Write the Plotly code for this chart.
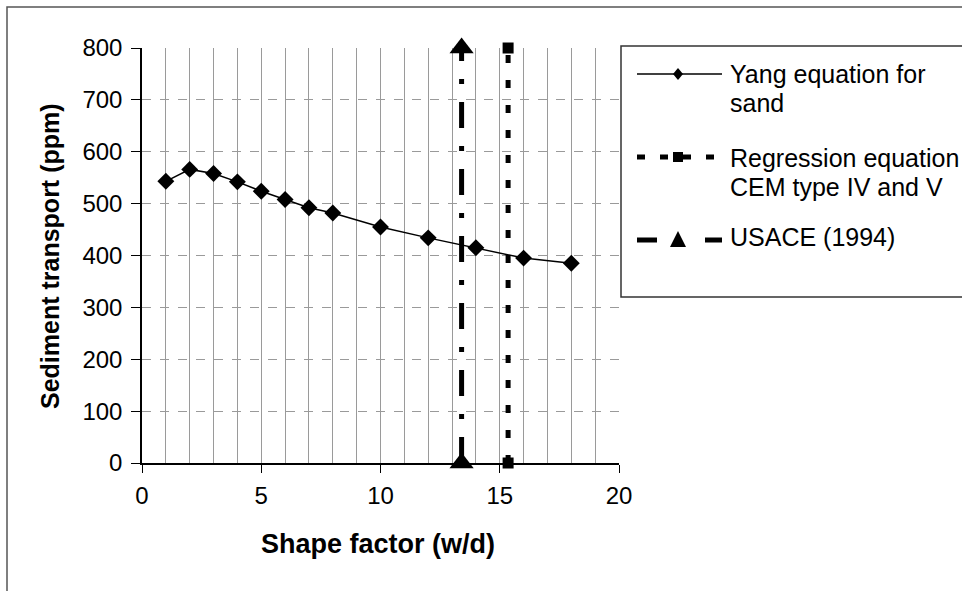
import plotly.graph_objects as go

# Yang equation for sand
shape_factor = [1, 2, 3, 4, 5, 6, 7, 8, 10, 12, 14, 16, 18]
yang_ppm = [543, 566, 558, 542, 524, 508, 492, 482, 455, 434, 415, 395, 385]

# Regression equation (CEM type IV and V) - vertical marker line
regression_x = [15.35, 15.35]
regression_y = [0, 800]

# USACE (1994) - vertical marker line
usace_x = [13.4, 13.4]
usace_y = [0, 800]

legend_lines = [
    ["Yang equation for", "sand"],
    ["Regression equation", "CEM type IV and V"],
    ["USACE (1994)"],
]

FONT = "Arial, Liberation Sans, sans-serif"
FS = 24

fig = go.Figure()

fig.add_trace(go.Scatter(
    x=shape_factor, y=yang_ppm, mode="lines+markers",
    name="Yang equation for sand",
    line=dict(color="black", width=1.5),
    marker=dict(symbol="diamond", size=13, color="black"),
    cliponaxis=False,
))
fig.add_trace(go.Scatter(
    x=regression_x, y=regression_y, mode="lines+markers",
    name="Regression equation CEM type IV and V",
    line=dict(color="black", width=5, dash="8px,17px"),
    marker=dict(symbol="square", size=11, color="black"),
    cliponaxis=False,
))
fig.add_trace(go.Scatter(
    x=usace_x, y=usace_y, mode="lines+markers",
    name="USACE (1994)",
    line=dict(color="black", width=5, dash="26px,18px,5px,18px"),
    marker=dict(symbol="triangle-up", size=21, color="black"),
    cliponaxis=False,
))

L, R, T, B = 142, 343, 48, 128
W, H = 962, 591
pw, ph = W - L - R, H - T - B


def px_x(p):
    return (p - L) / pw


def px_y(p):
    return (H - B - p) / ph


# ---- hand-built legend (sample lines, symbols and wrapped labels) ----
SAMPLE_X0, SAMPLE_X1, SYMBOL_X, TEXT_X = 637, 722, 678, 730
sample_y = [74, 157, 240]
text_baselines = [[83, 112], [167, 196], [246]]
sample_dash = ["solid", "8px,15px", "20px,48px,20px"]
sample_width = [1.5, 5, 5]
symbol_paths = [
    "M0,6 L5,0 L0,-6 L-5,0 Z",        # diamond
    "M-5,-5 L5,-5 L5,5 L-5,5 Z",      # square
    "M-8,-7 L8,-7 L0,9 Z",            # triangle (pixel y counts upward)
]

legend_shapes = [
    dict(type="rect", xref="paper", yref="paper",
         x0=px_x(621), x1=px_x(990), y0=px_y(297), y1=px_y(46),
         line=dict(color="#333", width=1.5), fillcolor="rgba(0,0,0,0)"),
]
legend_annotations = []
for i, lines in enumerate(legend_lines):
    legend_shapes.append(dict(
        type="line", xref="paper", yref="paper",
        x0=px_x(SAMPLE_X0), x1=px_x(SAMPLE_X1),
        y0=px_y(sample_y[i]), y1=px_y(sample_y[i]),
        line=dict(color="black", width=sample_width[i], dash=sample_dash[i]),
    ))
    legend_shapes.append(dict(
        type="path", xref="paper", yref="paper",
        xsizemode="pixel", ysizemode="pixel",
        xanchor=px_x(SYMBOL_X), yanchor=px_y(sample_y[i]),
        path=symbol_paths[i], fillcolor="black", line=dict(width=0),
    ))
    for txt, base in zip(lines, text_baselines[i]):
        legend_annotations.append(dict(
            text=txt, xref="paper", yref="paper",
            x=px_x(TEXT_X - 2), y=px_y(base - 9),
            xanchor="left", yanchor="middle", showarrow=False,
            font=dict(family=FONT, size=25, color="black"),
        ))

fig.update_layout(
    width=W, height=H,
    margin=dict(l=L, r=R, t=T, b=B, autoexpand=False),
    paper_bgcolor="white", plot_bgcolor="white",
    font=dict(family=FONT, size=FS, color="black"),
    showlegend=False,
    xaxis=dict(
        range=[0, 20], tickmode="linear", tick0=0, dtick=5,
        showline=True, linecolor="black", linewidth=1.5,
        ticks="outside", ticklen=8, tickcolor="black",
        showgrid=True, gridcolor="#9a9a9a", gridwidth=1,
        minor=dict(dtick=1, showgrid=True, gridcolor="#9a9a9a", gridwidth=1),
        zeroline=False, tickfont=dict(size=FS), ticklabelstandoff=2,
    ),
    yaxis=dict(
        range=[0, 800], tickmode="linear", tick0=0, dtick=100,
        showline=True, linecolor="black", linewidth=1.5,
        ticks="outside", ticklen=9, tickcolor="black",
        showgrid=True, gridcolor="#9a9a9a", gridwidth=1, griddash="dash",
        zeroline=False, tickfont=dict(size=FS), ticklabelstandoff=4,
    ),
    shapes=[
        # outer chart frame
        dict(type="rect", xref="paper", yref="paper",
             x0=px_x(7), x1=px_x(990), y0=px_y(620), y1=px_y(7),
             line=dict(color="#555", width=1.5), fillcolor="rgba(0,0,0,0)"),
    ] + legend_shapes,
    annotations=[
        dict(text="<b>Shape factor (w/d)</b>", xref="paper", yref="paper",
             x=px_x(378), y=px_y(544), xanchor="center", yanchor="middle",
             showarrow=False, font=dict(family=FONT, size=27)),
        dict(text="<b>Sediment transport (ppm)</b>", xref="paper", yref="paper",
             x=px_x(50), y=px_y(256), xanchor="center", yanchor="middle",
             showarrow=False, textangle=-90, font=dict(family=FONT, size=25)),
    ] + legend_annotations,
)

fig.write_html("out.html")
